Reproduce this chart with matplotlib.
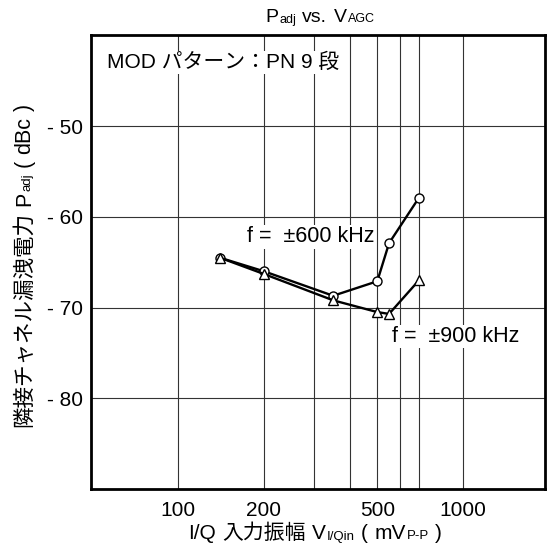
import matplotlib
matplotlib.use("Agg")
import matplotlib.pyplot as plt
from matplotlib.ticker import NullLocator
from matplotlib.transforms import IdentityTransform

plt.rcParams["font.family"] = ["Liberation Sans", "Noto Sans CJK JP"]

# ---------- data ----------
v_iq = [140, 200, 350, 500, 550, 700]                      # mVp-p
padj_600k = [-64.5, -66.0, -68.7, -67.1, -62.9, -57.9]     # f = ±600 kHz
padj_900k = [-64.5, -66.3, -69.2, -70.5, -70.7, -67.0]     # f = ±900 kHz

x_ticks = [100, 200, 500, 1000]
x_grid = [100, 200, 300, 400, 500, 600, 700, 1000]
y_ticks = [-50, -60, -70, -80]


def rich_text(fig, pieces, x, y, rotation=0):
    # pieces: (text, size, drop_pt, gap_pt); x, y in pixels, y from bottom
    r = fig.canvas.get_renderer()
    k = fig.dpi / 72
    widths = []
    for s, fs, drop, gap in pieces:
        t = fig.text(0, 0, s, fontsize=fs)
        widths.append(t.get_window_extent(r).width)
        t.remove()
    total = sum(widths) + sum(p[3] for p in pieces) * k
    pos = -total / 2
    for (s, fs, drop, gap), w in zip(pieces, widths):
        pos += gap * k
        if rotation == 90:
            px, py = x + drop * k, y + pos
        else:
            px, py = x + pos, y - drop * k
        fig.text(px, py, s, fontsize=fs, rotation=rotation, rotation_mode="anchor",
                 ha="left", va="baseline", transform=IdentityTransform())
        pos += w


fig = plt.figure(figsize=(5.48, 5.5), dpi=100)
ax = fig.add_axes([0.166, 0.111, 0.8285, 0.8245])
ax.set_xscale("log")
ax.set_xlim(49.4, 1940)
ax.set_ylim(-90, -40)

# ---------- grid ----------
for v in x_grid:
    ax.axvline(v, color="#333333", lw=0.8, zorder=1)
for v in y_ticks:
    ax.axhline(v, color="#333333", lw=0.8, zorder=1)

# ---------- curves ----------
ax.plot(v_iq, padj_600k, color="black", lw=1.7, marker="o", ms=6.5,
        mfc="white", mec="black", mew=1.0, zorder=4)
ax.plot(v_iq, padj_900k, color="black", lw=1.7, marker="^", ms=7,
        mfc="white", mec="black", mew=1.0, zorder=5)

box = dict(facecolor="white", edgecolor="none", pad=1)
ax.text(175, -62.2, "f =  ±600 kHz", fontsize=15.5, ha="left", va="center", bbox=box, zorder=3)
ax.text(564, -73.2, "f =  ±900 kHz", fontsize=15.5, ha="left", va="center", bbox=box, zorder=3)
ax.text(0.035, 0.928, "MOD パターン：PN 9 段", fontsize=15, ha="left", va="baseline",
        transform=ax.transAxes, bbox=box, zorder=3)

# ---------- axes ----------
ax.set_xticks(x_ticks)
ax.set_xticklabels([str(v) for v in x_ticks])
ax.xaxis.set_minor_locator(NullLocator())
ax.set_yticks(y_ticks)
ax.set_yticklabels([f"- {abs(v)}" for v in y_ticks])
ax.tick_params(axis="both", length=0, labelsize=15)
ax.tick_params(axis="x", pad=8.5)
ax.tick_params(axis="y", pad=5.5)
for sp in ax.spines.values():
    sp.set_linewidth(2)
    sp.set_zorder(6)

# ---------- title and labels with subscripts ----------
rich_text(fig, [("P", 14, 0, 0), ("adj", 9, 0.5, 0.6), ("vs.", 14, 0, 4.5),
                ("V", 14, 0, 4.5), ("AGC", 9, 0.3, 0.6)], 320, 528)
rich_text(fig, [("I/Q", 15, 0, 0), ("入力振幅", 15, 0, 4.5), ("V", 15, 0, 4.5),
                ("I/Qin", 9.5, 0.5, 0.6), ("(", 15, 0, 4.5), ("mV", 15, 0, 4.5),
                ("P-P", 9.5, 0.3, 0.6), (")", 15, 0, 4.5)], 315, 11)
rich_text(fig, [("隣接チャネル漏洩電力", 15.5, 0, 0), ("P", 15.5, 0, 4.5), ("adj", 9.5, 0.5, 0.6),
                ("(", 15.5, 0, 4.5), ("dBc", 15.5, 0, 4.5), (")", 15.5, 0, 4.5)],
          30, 284.5, rotation=90)

fig.savefig("out.png", dpi=100)
